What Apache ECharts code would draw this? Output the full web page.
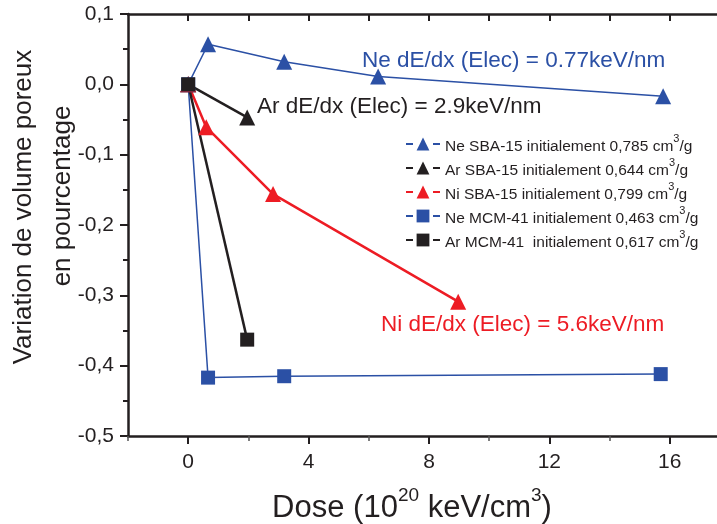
<!DOCTYPE html>
<html>
<head>
<meta charset="utf-8">
<style>html,body{margin:0;padding:0;background:#fff;}#c{width:717px;height:524px;}</style>
<script src="https://cdn.jsdelivr.net/npm/echarts@6/dist/echarts.min.js"></script>
</head>
<body>
<div id="c"></div>
<script>
// ---- data ----
var seriesNames = [
  'Ne SBA-15 initialement 0,785 cm3/g',
  'Ar SBA-15 initialement 0,644 cm3/g',
  'Ni SBA-15 initialement 0,799 cm3/g',
  'Ne MCM-41 initialement 0,463 cm3/g',
  'Ar MCM-41  initialement 0,617 cm3/g'
];
var neSbaX = [0, 0.66, 3.19, 6.31, 15.78];
var neSbaY = [0, 0.057, 0.032, 0.011, -0.017];
var arSbaX = [0, 1.96];
var arSbaY = [0, -0.047];
var niSbaX = [0, 0.6, 2.82, 8.97];
var niSbaY = [0, -0.061, -0.156, -0.309];
var neMcmX = [0, 0.66, 3.19, 15.7];
var neMcmY = [0, -0.417, -0.415, -0.412];
var arMcmX = [0, 1.96];
var arMcmY = [0, -0.363];
var xMajorTicks = [0, 4, 8, 12, 16];
var xMinorTicks = [-2, 2, 6, 10, 14];
var xTopTicks = [0, 2, 4, 6, 8, 10, 12, 14, 16];
var annotations = [
  'Ne dE/dx (Elec) = 0.77keV/nm',
  'Ar dE/dx (Elec) = 2.9keV/nm',
  'Ni dE/dx (Elec) = 5.6keV/nm'
];

function pairs(xs, ys) { return xs.map(function (x, i) { return [x, ys[i]]; }); }

var BLUE = '#2b50a5', RED = '#ed1c24', BLACK = '#231f20';
var FONT = '"Liberation Sans", Arial, sans-serif';
var XMIN = -2, XMAX = 17.57;

function mk(name, data, color, symbol, size, width) {
  return {
    name: name, type: 'line', data: data, xAxisIndex: 0, yAxisIndex: 0,
    symbol: symbol, symbolSize: size, showSymbol: true,
    lineStyle: { color: color, width: width },
    itemStyle: { color: color },
    emphasis: { disabled: true },
    animation: false
  };
}

var chart = echarts.init(document.getElementById('c'), null, { renderer: 'canvas' });
var axisLine = { show: true, onZero: false, lineStyle: { color: BLACK, width: 2.5 } };
var gridRect = { left: 128, top: 14, right: 0, bottom: 88 };

chart.setOption({
  backgroundColor: '#fff',
  animation: false,
  grid: [gridRect, gridRect],
  legend: {
    orient: 'vertical', left: 400, top: 128,
    itemWidth: 34, itemHeight: 16, itemGap: 2,
    lineStyle: { type: [7, 20], width: 2 },
    textStyle: {
      fontFamily: FONT, fontSize: 15.5, color: BLACK,
      rich: {
        a: { fontFamily: FONT, fontSize: 15.5, color: BLACK, lineHeight: 22, verticalAlign: 'bottom' },
        s: { fontFamily: FONT, fontSize: 11, color: BLACK, lineHeight: 12, verticalAlign: 'top' }
      }
    },
    formatter: function (name) {
      var i = name.lastIndexOf('cm3/g');
      return '{a|' + name.slice(0, i) + 'cm}{s|3}{a|/g}';
    },
    data: seriesNames
  },
  xAxis: [
    {
      type: 'value', gridIndex: 0, min: XMIN, max: XMAX, interval: 2, position: 'bottom',
      axisLine: axisLine,
      axisTick: { show: true, inside: false, length: 5, customValues: xMinorTicks, lineStyle: { color: '#555', width: 1.5 } },
      axisLabel: {
        margin: 16, fontFamily: FONT, fontSize: 21, color: BLACK, customValues: xMajorTicks,
        formatter: function (v) { return String(v); }
      },
      splitLine: { show: false }
    },
    {
      type: 'value', gridIndex: 0, min: XMIN, max: XMAX, interval: 2, position: 'top',
      axisLine: axisLine,
      axisTick: { show: true, inside: true, length: 7, customValues: xTopTicks, lineStyle: { color: BLACK, width: 2 } },
      axisLabel: { show: false },
      splitLine: { show: false }
    },
    {
      type: 'value', gridIndex: 1, min: XMIN, max: XMAX, interval: 2, position: 'bottom',
      axisLine: { show: false, onZero: false },
      axisTick: { show: true, inside: false, length: 8, customValues: xMajorTicks, lineStyle: { color: BLACK, width: 2 } },
      axisLabel: { show: false },
      splitLine: { show: false }
    }
  ],
  yAxis: [
    {
      type: 'value', gridIndex: 0, min: -0.5, max: 0.1, interval: 0.1,
      axisLine: axisLine,
      axisTick: { show: true, inside: false, length: 8, lineStyle: { color: BLACK, width: 2 } },
      minorTick: { show: true, splitNumber: 2, length: 5, lineStyle: { color: BLACK, width: 2 } },
      axisLabel: {
        margin: 14, fontFamily: FONT, fontSize: 21, color: BLACK,
        formatter: function (v) { return v.toFixed(1).replace('.', ','); }
      },
      splitLine: { show: false }
    },
    {
      type: 'value', gridIndex: 1, min: -0.5, max: 0.1, interval: 0.1, show: false
    }
  ],
  series: [
    mk(seriesNames[0], pairs(neSbaX, neSbaY), BLUE, 'triangle', 16, 1.5),
    mk(seriesNames[1], pairs(arSbaX, arSbaY), BLACK, 'triangle', 16, 2.5),
    mk(seriesNames[2], pairs(niSbaX, niSbaY), RED, 'triangle', 16, 2.5),
    mk(seriesNames[3], pairs(neMcmX, neMcmY), BLUE, 'rect', 14, 1.5),
    mk(seriesNames[4], pairs(arMcmX, arMcmY), BLACK, 'rect', 14, 2.5)
  ],
  graphic: [
    { type: 'text', left: 362, top: 49, silent: true,
      style: { text: annotations[0], fill: BLUE, font: '22.5px ' + FONT } },
    { type: 'text', left: 257, top: 95, silent: true,
      style: { text: annotations[1], fill: BLACK, font: '22.5px ' + FONT } },
    { type: 'text', left: 381, top: 313, silent: true,
      style: { text: annotations[2], fill: RED, font: '22.5px ' + FONT } },
    { type: 'text', x: 24, y: 207, rotation: Math.PI / 2, silent: true,
      style: { text: 'Variation de volume poreux', fill: BLACK, font: '26px ' + FONT,
        textAlign: 'center', textVerticalAlign: 'middle', align: 'center', verticalAlign: 'middle' } },
    { type: 'text', x: 63, y: 196, rotation: Math.PI / 2, silent: true,
      style: { text: 'en pourcentage', fill: BLACK, font: '26px ' + FONT,
        textAlign: 'center', textVerticalAlign: 'middle', align: 'center', verticalAlign: 'middle' } },
    { type: 'text', x: 412, y: 505, silent: true,
      style: {
        text: '{a|Dose (10}{s|20}{a| keV/cm}{s|3}{a|)}',
        textAlign: 'center', textVerticalAlign: 'middle', align: 'center', verticalAlign: 'middle',
        rich: {
          a: { fontFamily: FONT, fontSize: 31, lineHeight: 38, verticalAlign: 'bottom', fill: BLACK, color: BLACK },
          s: { fontFamily: FONT, fontSize: 19, lineHeight: 20, verticalAlign: 'top', fill: BLACK, color: BLACK }
        }
      } }
  ]
});
</script>
</body>
</html>
